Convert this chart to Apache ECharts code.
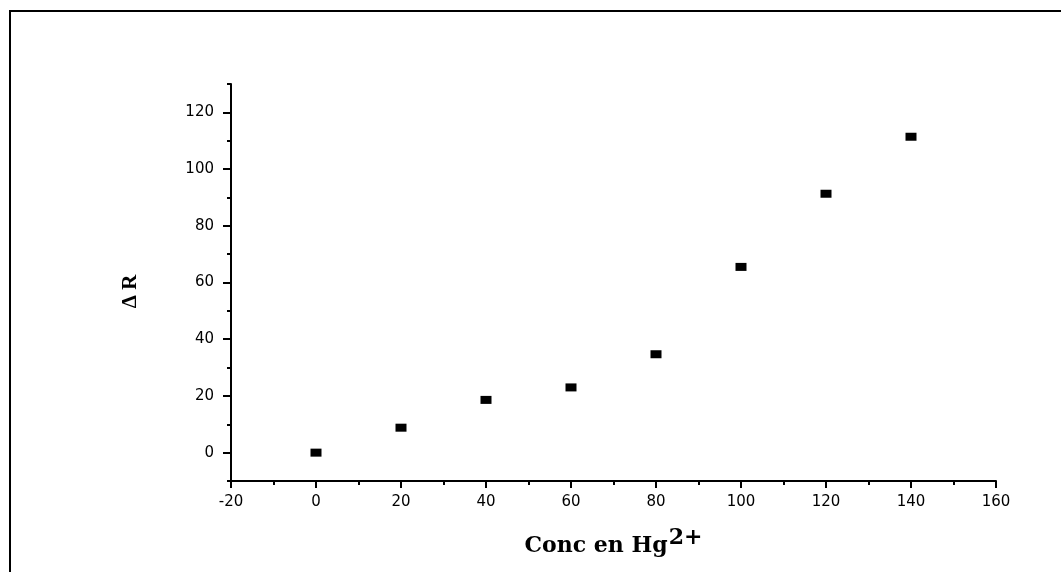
<!DOCTYPE html>
<html>
<head>
<meta charset="utf-8">
<script src="https://cdn.jsdelivr.net/npm/echarts@6/dist/echarts.min.js"></script>
<style>
  html, body { margin: 0; padding: 0; background: #fff; }
  #chart { width: 1061px; height: 572px; }
  .frame {
    position: absolute; left: 9px; top: 10px; right: 0; bottom: 0;
    border-top: 2px solid #000; border-left: 2px solid #000;
    pointer-events: none;
  }
</style>
</head>
<body>
<div id="chart"></div>
<div class="frame"></div>
<script>
  let concs  = [0, 20, 40, 60, 80, 100, 120, 140],
      deltaR = [0, 8.8, 18.6, 23.0, 34.7, 65.5, 91.3, 111.4],
      yMajor = [0, 20, 40, 60, 80, 100, 120];

  let chart = echarts.init(document.getElementById('chart'));

  let labelFont = { fontFamily: 'DejaVu Sans', fontSize: 15, color: '#000' };
  let titleFont = { fontFamily: 'DejaVu Serif', fontWeight: 'bold', fontSize: 22, color: '#000' };
  let tickStyle = { color: '#000', width: 2 };

  let option = {
    animation: false,
    grid: { left: 231, top: 84, right: 65, bottom: 91 },
    xAxis: {
      type: 'value',
      min: -20, max: 160, interval: 20,
      name: '{a|Conc en Hg}{b|2+}',
      nameLocation: 'middle',
      nameGap: 46,
      nameTextStyle: {
        rich: {
          a: titleFont,
          b: Object.assign({}, titleFont, { padding: [0, 0, 16, 1] })
        }
      },
      axisLine: { onZero: false, lineStyle: tickStyle },
      axisTick: { inside: false, length: 7, lineStyle: tickStyle },
      minorTick: { show: true, splitNumber: 2, length: 4, lineStyle: tickStyle },
      axisLabel: Object.assign({ margin: 14 }, labelFont),
      splitLine: { show: false }
    },
    yAxis: [{
      type: 'value',
      min: -10, max: 130,
      name: 'Δ R',
      nameLocation: 'middle',
      nameGap: 90,
      nameRotate: 90,
      nameTextStyle: Object.assign({}, titleFont, { fontFamily: 'Liberation Serif', fontSize: 21, padding: [0, 18, 0, 0] }),
      axisLine: { onZero: false, lineStyle: tickStyle },
      axisTick: { inside: false, length: 8, customValues: yMajor, lineStyle: tickStyle },
      axisLabel: Object.assign({ margin: 17, customValues: yMajor }, labelFont),
      splitLine: { show: false }
    }, {
      type: 'value',
      position: 'left',
      min: -10, max: 130, interval: 10,
      axisLine: { show: false, onZero: false },
      axisTick: { inside: false, length: 4, lineStyle: tickStyle },
      axisLabel: { show: false },
      splitLine: { show: false }
    }],
    series: [{
      type: 'scatter',
      symbol: 'rect',
      symbolSize: [11, 8],
      itemStyle: { color: '#000', opacity: 1 },
      data: concs.map(function(c, i) { return [c, deltaR[i]]; })
    }]
  };

  chart.setOption(option);
</script>
</body>
</html>
